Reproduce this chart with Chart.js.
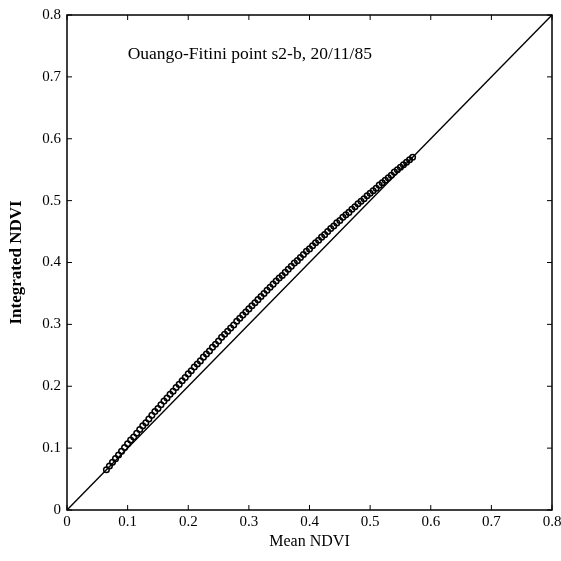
<!DOCTYPE html>
<html>
<head>
<meta charset="utf-8">
<script src="https://cdn.jsdelivr.net/npm/chart.js@4"></script>
<style>
  html, body { margin: 0; padding: 0; background: #fff; }
  #wrap { width: 561px; height: 561px; }
</style>
</head>
<body>
<div id="wrap"><canvas id="ndviChart"></canvas></div>
<script>
// values
const meanNdvi = [0.065, 0.070, 0.075, 0.080, 0.085, 0.090, 0.095, 0.100, 0.105, 0.110,
  0.115, 0.120, 0.125, 0.130, 0.135, 0.140, 0.145, 0.150, 0.155, 0.160,
  0.165, 0.170, 0.175, 0.180, 0.185, 0.190, 0.195, 0.200, 0.205, 0.210,
  0.215, 0.220, 0.225, 0.230, 0.235, 0.240, 0.245, 0.250, 0.255, 0.260,
  0.265, 0.270, 0.275, 0.280, 0.285, 0.290, 0.295, 0.300, 0.305, 0.310,
  0.315, 0.320, 0.325, 0.330, 0.335, 0.340, 0.345, 0.350, 0.355, 0.360,
  0.365, 0.370, 0.375, 0.380, 0.385, 0.390, 0.395, 0.400, 0.405, 0.410,
  0.415, 0.420, 0.425, 0.430, 0.435, 0.440, 0.445, 0.450, 0.455, 0.460,
  0.465, 0.470, 0.475, 0.480, 0.485, 0.490, 0.495, 0.500, 0.505, 0.510,
  0.515, 0.520, 0.525, 0.530, 0.535, 0.540, 0.545, 0.550, 0.555, 0.560,
  0.565, 0.570];
const integratedNdvi = [0.065, 0.071, 0.077, 0.083, 0.089, 0.095, 0.101, 0.107, 0.113, 0.118,
  0.124, 0.130, 0.136, 0.141, 0.147, 0.153, 0.159, 0.164, 0.170, 0.176,
  0.181, 0.187, 0.192, 0.198, 0.203, 0.209, 0.214, 0.220, 0.225, 0.231,
  0.236, 0.241, 0.247, 0.252, 0.257, 0.263, 0.268, 0.273, 0.279, 0.284,
  0.289, 0.294, 0.299, 0.305, 0.310, 0.315, 0.320, 0.325, 0.330, 0.335,
  0.340, 0.345, 0.350, 0.355, 0.360, 0.365, 0.370, 0.375, 0.379, 0.384,
  0.389, 0.394, 0.399, 0.403, 0.408, 0.413, 0.418, 0.422, 0.427, 0.432,
  0.436, 0.441, 0.445, 0.450, 0.455, 0.459, 0.464, 0.468, 0.473, 0.477,
  0.481, 0.486, 0.490, 0.495, 0.499, 0.503, 0.508, 0.512, 0.516, 0.520,
  0.525, 0.529, 0.533, 0.537, 0.541, 0.546, 0.550, 0.554, 0.558, 0.562,
  0.566, 0.570];
const oneToOne = [0, 0.8];
const tickValues = [0, 0.1, 0.2, 0.3, 0.4, 0.5, 0.6, 0.7, 0.8];
const noteText = 'Ouango-Fitini point s2-b, 20/11/85';

const serif = '"Liberation Serif", "DejaVu Serif", serif';

// inward ticks on all four sides, plus the frame and the note
const framePlugin = {
  id: 'frame',
  afterDraw(chart) {
    const { ctx, chartArea: a, scales: { x, y } } = chart;
    ctx.save();
    ctx.strokeStyle = '#000';
    ctx.lineWidth = 1.5;
    ctx.strokeRect(a.left, a.top, a.right - a.left, a.bottom - a.top);
    ctx.lineWidth = 1;
    ctx.beginPath();
    tickValues.forEach(v => {
      const px = x.getPixelForValue(v);
      ctx.moveTo(px, a.bottom); ctx.lineTo(px, a.bottom - 5);
      ctx.moveTo(px, a.top); ctx.lineTo(px, a.top + 5);
      const py = y.getPixelForValue(v);
      ctx.moveTo(a.left, py); ctx.lineTo(a.left + 5, py);
      ctx.moveTo(a.right, py); ctx.lineTo(a.right - 5, py);
    });
    ctx.stroke();
    ctx.fillStyle = '#000';
    ctx.font = '17.5px ' + serif;
    ctx.textAlign = 'left';
    ctx.textBaseline = 'middle';
    ctx.fillText(noteText, x.getPixelForValue(0.1), y.getPixelForValue(0.737));
    ctx.restore();
  }
};

const ctx = document.getElementById('ndviChart').getContext('2d');
const ndviChart = new Chart(ctx, {
  type: 'scatter',
  data: {
    datasets: [{
      type: 'line',
      data: oneToOne.map(v => ({ x: v, y: v })),
      borderColor: '#000',
      borderWidth: 1.4,
      pointRadius: 0,
      fill: false
    }, {
      data: meanNdvi.map((v, i) => ({ x: v, y: integratedNdvi[i] })),
      borderColor: '#000',
      backgroundColor: 'rgba(255,255,255,0)',
      borderWidth: 1.5,
      pointRadius: 2.8
    }]
  },
  options: {
    responsive: true,
    maintainAspectRatio: false,
    animation: false,
    layout: { padding: { left: 0, right: 9, top: 15, bottom: 0 } },
    plugins: { legend: { display: false }, tooltip: { enabled: false } },
    scales: {
      x: {
        type: 'linear', min: 0, max: 0.8,
        afterBuildTicks: s => { s.ticks = tickValues.map(v => ({ value: v })); },
        afterFit: s => { s.height = 51; s.paddingRight = 0; s.paddingLeft = 0; },
        grid: { display: false, drawTicks: false },
        border: { display: false },
        ticks: {
          color: '#000', padding: 3, maxRotation: 0,
          font: { family: serif, size: 15 },
          callback: v => String(Math.round(v * 10) / 10)
        },
        title: {
          display: true, text: 'Mean NDVI', color: '#000',
          font: { family: serif, size: 16 },
          padding: { top: 0, bottom: 10 }
        }
      },
      y: {
        type: 'linear', min: 0, max: 0.8,
        afterBuildTicks: s => { s.ticks = tickValues.map(v => ({ value: v })); },
        afterFit: s => { s.width = 67; s.paddingTop = 0; s.paddingBottom = 0; },
        grid: { display: false, drawTicks: false },
        border: { display: false },
        ticks: {
          color: '#000', padding: 6,
          font: { family: serif, size: 15 },
          callback: v => String(Math.round(v * 10) / 10)
        },
        title: {
          display: true, text: 'Integrated NDVI', color: '#000',
          font: { family: serif, size: 17, weight: 'bold' },
          padding: { top: 6, bottom: 0 }
        }
      }
    }
  },
  plugins: [framePlugin]
});
</script>
</body>
</html>
